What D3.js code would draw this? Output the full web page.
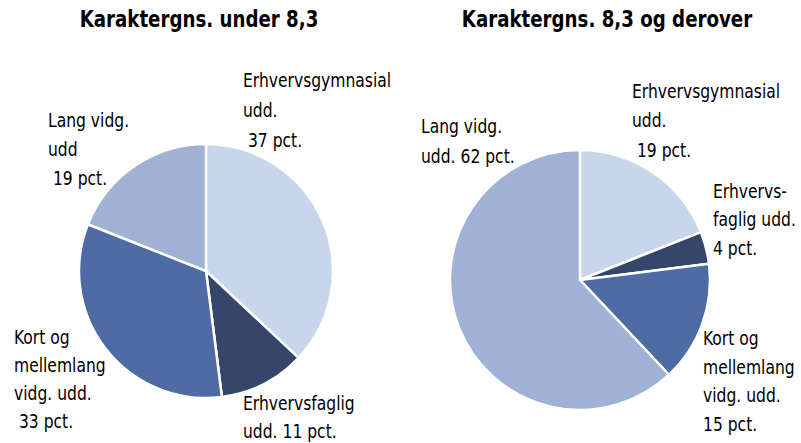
<!DOCTYPE html>
<html><head><meta charset="utf-8">
<script src="https://cdn.jsdelivr.net/npm/d3@7"></script>
<style>body{margin:0;background:#fff}svg{display:block}</style>
</head><body>
<script>
// Data
const categories = ["Erhvervsgymnasial udd.", "Erhvervsfaglig udd.", "Kort og mellemlang vidg. udd.", "Lang vidg. udd."];
const titles = ["Karaktergns. under 8,3", "Karaktergns. 8,3 og derover"];
const valuesUnder = [37, 11, 33, 19];
const valuesOver = [19, 4, 15, 62];
const labelsUnder = [
  ["Erhvervsgymnasial", "udd.", " 37 pct."],
  ["Erhvervsfaglig", "udd. 11 pct."],
  ["Kort og", "mellemlang", "vidg. udd.", " 33 pct."],
  ["Lang vidg.", "udd", " 19 pct."]
];
const labelsOver = [
  ["Erhvervsgymnasial", "udd.", " 19 pct."],
  ["Erhvervs-", "faglig udd.", "4 pct."],
  ["Kort og", "mellemlang", "vidg. udd.", "15 pct."],
  ["Lang vidg.", "udd. 62 pct."]
];

// Layout / style
const W = 801, H = 443;
const colors = ["#c8d6eb", "#34476b", "#4e6ca3", "#9fb1d4"];
const font = "'DejaVu Sans Condensed', 'DejaVu Sans', sans-serif";
const labelScale = 0.865, titleScale = 0.88;
const panels = [
  {title: titles[0], values: valuesUnder, labels: labelsUnder, cx: 206, cy: 271, r: 127, tx: 199,
   lpos: [[243, 87, 30], [243, 410, 28], [14, 344, 28], [48, 127, 29]]},
  {title: titles[1], values: valuesOver, labels: labelsOver, cx: 580, cy: 280, r: 130, tx: 607,
   lpos: [[632, 98, 29.5], [713, 198, 28.5], [703, 345, 28.7], [421, 133, 30]]}
];

const svg = d3.select("body").append("svg").attr("width", W).attr("height", H);
const pie = d3.pie().sort(null).value(d => d);

panels.forEach(p => {
  svg.append("text").attr("transform", `translate(${p.tx},27) scale(${titleScale},1)`)
    .attr("text-anchor", "middle")
    .attr("font-family", font).attr("font-weight", "bold").attr("font-size", 23)
    .attr("fill", "#000").text(p.title);
  const arc = d3.arc().innerRadius(0).outerRadius(p.r);
  const g = svg.append("g").attr("transform", `translate(${p.cx},${p.cy})`);
  g.selectAll("path").data(pie(p.values)).join("path")
    .attr("d", arc).attr("fill", (d, i) => colors[i])
    .attr("stroke", "#fff").attr("stroke-width", 2.5).attr("stroke-linejoin", "round");
  p.labels.forEach((lines, i) => {
    const [x, y, lh] = p.lpos[i];
    const t = svg.append("text").attr("transform", `translate(${x},0) scale(${labelScale},1)`)
      .attr("font-family", font).attr("font-size", 20).attr("fill", "#000")
      .attr("xml:space", "preserve").style("white-space", "pre");
    lines.forEach((ln, j) => {
      t.append("tspan").attr("x", 0).attr("y", y + j * lh).text(ln);
    });
  });
});
</script>
</body></html>
